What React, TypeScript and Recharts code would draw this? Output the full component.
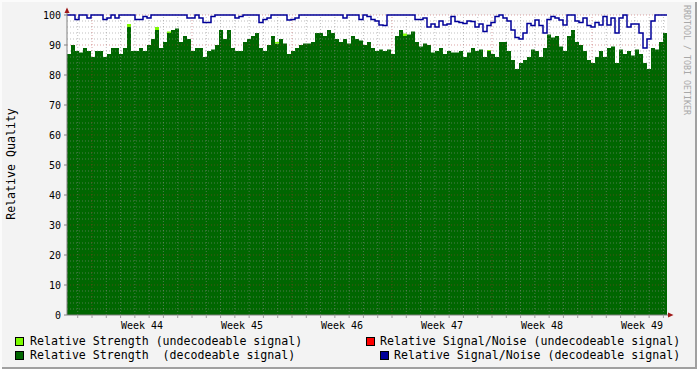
import { ComposedChart, Area, Line, XAxis, YAxis, ReferenceLine } from 'recharts';

// rrdtool-style "relative quality" graph, 6 weeks, one bin ~ 6.7 h
const weekLabels = ['Week 44', 'Week 45', 'Week 46', 'Week 47', 'Week 48', 'Week 49'];
const weekMids = [3.5, 10.5, 17.5, 24.5, 31.5, 38.5];
const weekStarts = [0, 7, 14, 21, 28, 35];
const yTicks = [0, 10, 20, 30, 40, 50, 60, 70, 80, 90, 100];
const startDay = -1.75;
const binDays = 0.28;

// Relative Strength (decodeable signal)
const strength = [
  87, 90, 88, 87.5, 89, 88, 86, 88, 88, 86, 87, 89, 89, 87, 89, 96, 88, 88, 89, 88, 90, 92, 95, 89, 91,
  94, 95, 95.5, 91, 93, 92, 88, 89, 89, 86, 88, 88.5, 90, 95, 92, 95, 89, 88, 88, 91, 92, 93, 94, 89, 88,
  90, 93, 90.5, 92, 90.5, 87, 88, 89, 90, 90.5, 90.5, 91, 94, 94, 93, 95, 94, 92, 91, 92, 90.5, 93, 92, 91.5, 90,
  91, 89, 88, 88.5, 88, 88.5, 87, 93, 95, 93, 93.5, 94.5, 91, 89.5, 90.5, 90, 87.5, 88, 89, 87, 88, 87.5, 87.5, 88, 86,
  87.5, 89, 88, 88.5, 86, 88, 87, 86, 91, 91, 88, 85, 82, 84, 85, 86, 88.5, 88, 86, 89, 93.5, 92.5, 93, 89.5, 88,
  93, 95, 91, 90, 88, 85, 84, 86, 88, 86, 89, 89.5, 84, 88.5, 87, 88, 86.5, 88.5, 87, 84, 82, 89, 88.5, 91, 94,
];

// Relative Strength (undecodeable signal), stacked on top
const weakStrength = [
  0, 0, 0, 0, 0, 0, 0, 0, 0, 0, 0, 0, 0, 0, 0, 1, 0, 0, 0, 0, 0, 0, 1, 0, 0,
  0.5, 0, 0, 0, 0, 0, 0, 0, 0, 0, 0, 0, 0, 0, 0, 0, 0, 0, 0, 0, 0, 0, 0, 0, 0,
  0, 0, 0.5, 0, 0, 0, 0, 0, 0, 0, 0, 0, 0, 0, 0, 0, 0, 0, 0, 0, 0, 0, 0, 0, 0,
  0, 0, 0, 0, 0, 0, 0, 0, 0, 0.8, 0, 0, 0, 0, 0, 0, 0, 0, 0, 0, 0, 0, 0, 0, 0,
  0, 0, 0, 0, 0, 0.3, 0, 0, 0, 0, 0, 0, 0, 0, 0, 0, 0, 0, 0, 0, 0, 0, 0, 0, 0,
  0, 0, 0, 0, 0, 0, 0, 0, 0, 0, 0, 0, 0, 0, 0, 0, 0, 0, 0, 0, 0, 0, 0, 0, 0,
];

// Relative Signal/Noise (decodeable signal)
const snr = [
  100, 100, 98.5, 100, 100, 99, 100, 100, 100, 98.5, 99, 100, 99, 100, 100, 100, 100, 98.5, 98.5, 99.5, 99, 100, 100, 100, 100,
  100, 100, 100, 100, 100, 99, 99, 100, 99, 97.5, 97.5, 99.5, 100, 100, 100, 100, 100, 99, 99.5, 100, 100, 100, 100, 97.5, 98.5,
  99, 100, 100, 100, 100, 98.3, 98.5, 99, 100, 100, 100, 100, 100, 100, 100, 100, 100, 100, 100, 99, 100, 100, 100, 98.5, 100,
  99.5, 98.5, 98, 96.7, 96.5, 100, 100, 100, 100, 100, 100, 100, 98.5, 98.5, 99, 96, 97, 96, 98, 96.7, 97, 99.5, 97.8, 97.5, 97.2,
  98, 97.8, 96, 97, 94.5, 96.5, 97.5, 99.5, 100, 99, 98, 95, 92.5, 92, 94, 97.2, 96.5, 98.3, 96.5, 94, 98.5, 99.5, 99, 98.3, 96.7,
  100, 100, 98, 97.5, 99, 96.5, 96, 97.5, 96.7, 99.5, 96.7, 99, 94, 99, 100, 96, 97, 97, 94, 89, 92, 98, 100, 100, 100,
];

const legendItems = [
  { label: 'Relative Strength (undecodeable signal)', color: '#7cfc00', box: 15, text: 30, row: 0 },
  { label: 'Relative Signal/Noise (undecodeable signal)', color: '#ff0000', box: 366, text: 380, row: 0 },
  { label: 'Relative Strength  (decodeable signal)', color: '#006600', box: 15, text: 30, row: 1 },
  { label: 'Relative Signal/Noise (decodeable signal)', color: '#000099', box: 380, text: 394, row: 1 },
];

const data = strength.map((v, i) => ({
  t: startDay + i * binDays,
  strength: v,
  weak: weakStrength[i],
  snr: snr[i],
}));
// close the last step
data.push({ ...data[data.length - 1], t: startDay + strength.length * binDays });

const domainX: [number, number] = [startDay, startDay + strength.length * binDays];

const days: number[] = [];
for (let d = Math.ceil(domainX[0]); d <= domainX[1]; d++) days.push(d);
const dayLines = days.filter((d) => !weekStarts.includes(d));
const minorY: number[] = [];
for (let v = 2; v < 100; v += 2) if (v % 10 !== 0) minorY.push(v);
const majorY = yTicks.filter((v) => v > 0);

const MONO = '"DejaVu Sans Mono", monospace';
const GRID = '#8c8c8c';
const MGRID = '#b03030';

export default function App() {
  return (
    <div
      style={{
        position: 'fixed',
        left: 0,
        top: 0,
        width: 697,
        height: 369,
        background: '#f3f3f3',
        boxShadow: 'inset 2px 2px 0 #fbfbfb, inset -2px -2px 0 #a0a0a0',
        fontFamily: MONO,
      }}
    >
      <ComposedChart
        width={697}
        height={337}
        data={data}
        margin={{ top: 15, right: 30, bottom: 0, left: 0 }}
        style={{ position: 'absolute', left: 0, top: 0 }}
      >
        <rect x={67} y={15} width={600} height={300} fill="#ffffff" />
        <XAxis
          xAxisId="days"
          dataKey="t"
          type="number"
          domain={domainX}
          ticks={days}
          allowDataOverflow
          height={4}
          tickSize={3}
          tickFormatter={() => ''}
          axisLine={{ stroke: '#808080' }}
          tickLine={{ stroke: '#a0a0a0' }}
        />
        <XAxis
          xAxisId="main"
          dataKey="t"
          type="number"
          domain={domainX}
          ticks={weekMids}
          allowDataOverflow
          height={18}
          tickSize={0}
          tickMargin={3}
          axisLine={false}
          tickLine={false}
          tickFormatter={(_v: number, i: number) => weekLabels[i]}
          tick={{ fill: '#000', fontSize: 10, fontFamily: MONO }}
        />
        <YAxis
          type="number"
          domain={[0, 100]}
          ticks={yTicks}
          width={67}
          tickSize={3}
          tickMargin={3}
          axisLine={{ stroke: '#808080' }}
          tickLine={{ stroke: '#808080' }}
          tick={{ fill: '#000', fontSize: 10, fontFamily: MONO }}
        />
        <Area
          xAxisId="main"
          type="stepAfter"
          dataKey="strength"
          stackId="s"
          fill="#006600"
          fillOpacity={1}
          stroke="none"
          isAnimationActive={false}
        />
        <Area
          xAxisId="main"
          type="stepAfter"
          dataKey="weak"
          stackId="s"
          fill="#7cfc00"
          fillOpacity={1}
          stroke="none"
          isAnimationActive={false}
        />
        {minorY.map((v) => (
          <ReferenceLine key={`hy${v}`} xAxisId="main" y={v} stroke={GRID} strokeOpacity={0.55} strokeDasharray="1 2" />
        ))}
        {dayLines.map((d) => (
          <ReferenceLine key={`vd${d}`} xAxisId="main" x={d} stroke={GRID} strokeOpacity={0.55} strokeDasharray="1 2" />
        ))}
        {majorY.map((v) => (
          <ReferenceLine key={`my${v}`} xAxisId="main" y={v} stroke={MGRID} strokeOpacity={0.45} strokeDasharray="1 2" />
        ))}
        {weekStarts.map((d) => (
          <ReferenceLine key={`mw${d}`} xAxisId="main" x={d} stroke={MGRID} strokeOpacity={0.45} strokeDasharray="1 2" />
        ))}
        <Line
          xAxisId="main"
          type="stepAfter"
          dataKey="snr"
          stroke="#000099"
          strokeWidth={1.5}
          dot={false}
          isAnimationActive={false}
        />
      </ComposedChart>
      <svg width={697} height={369} style={{ position: 'absolute', left: 0, top: 0, pointerEvents: 'none' }}>
        <line x1={67} y1={9} x2={67} y2={15} stroke="#808080" />
        <line x1={667} y1={315} x2={671} y2={315} stroke="#808080" />
        <polygon points="64.5,13 67,7.5 69.5,13" fill="#a01818" />
        <polygon points="668,312.5 673.5,315 668,317.5" fill="#a01818" />
        <text
          transform="translate(15,164) rotate(-90)"
          textAnchor="middle"
          fontFamily={MONO}
          fontSize={11.6}
          fill="#000"
        >
          Relative Quality
        </text>
        <text
          transform="translate(684,5) rotate(90)"
          fontFamily={MONO}
          fontSize={8.3}
          fill="#a8a8a8"
        >
          RRDTOOL / TOBI OETIKER
        </text>
        {legendItems.map((it) => (
          <g key={it.label}>
            <rect
              x={it.box + 0.5}
              y={337.5 + it.row * 14}
              width={8}
              height={8}
              fill={it.color}
              stroke="#000"
            />
            <text
              x={it.text}
              y={345 + it.row * 14}
              fontFamily={MONO}
              fontSize={11.6}
              fill="#000"
              style={{ whiteSpace: 'pre' }}
            >
              {it.label}
            </text>
          </g>
        ))}
      </svg>
    </div>
  );
}
